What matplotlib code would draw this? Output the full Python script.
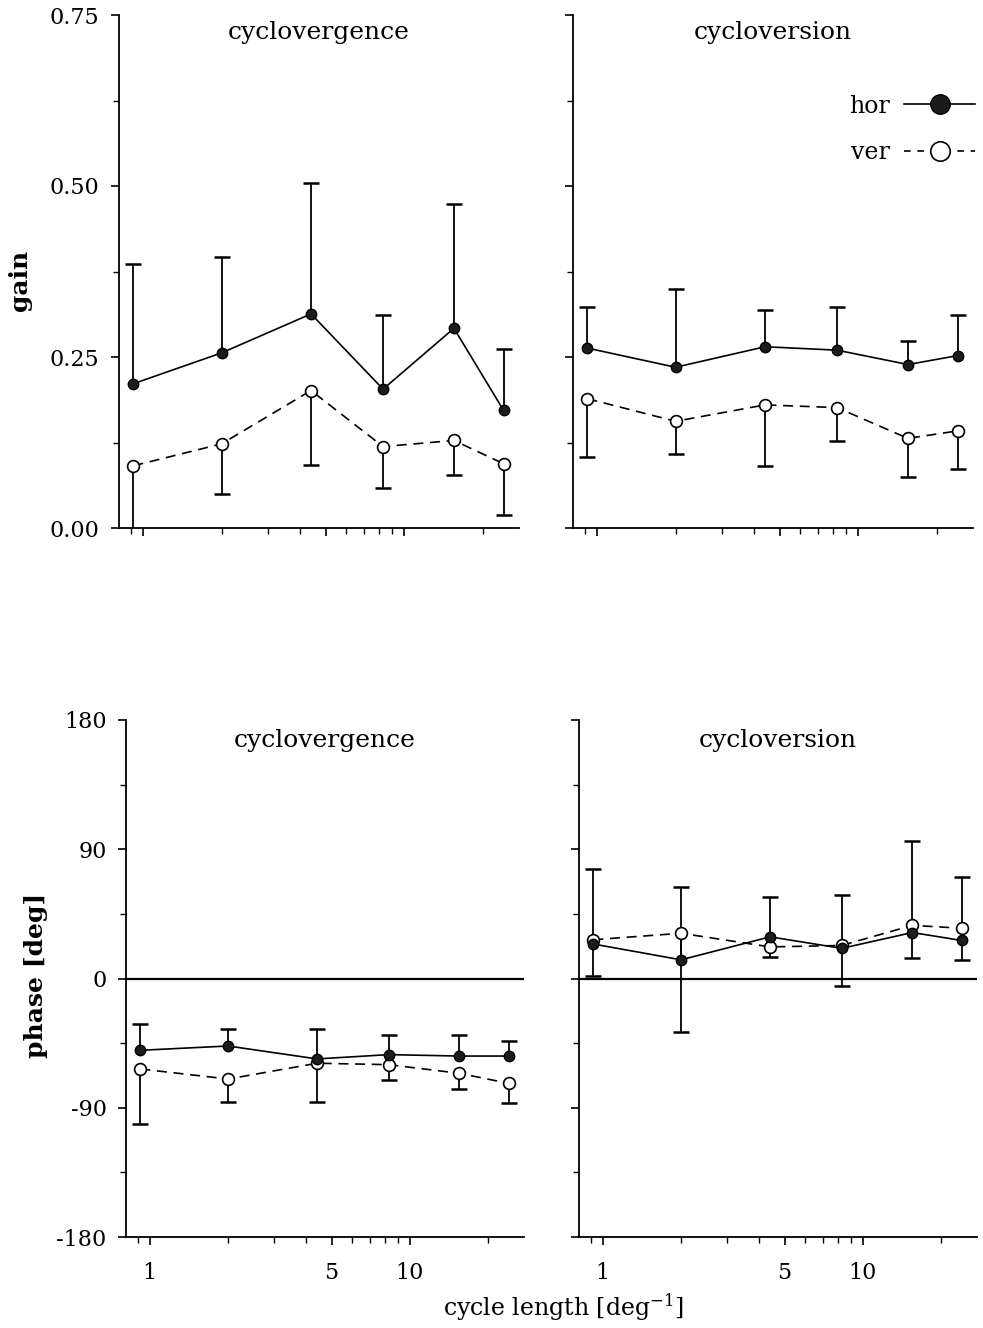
import matplotlib
matplotlib.use('Agg')
import matplotlib.pyplot as plt
from matplotlib.lines import Line2D
from matplotlib.ticker import FixedLocator, FixedFormatter, NullFormatter, LogLocator, MultipleLocator, FormatStrFormatter
import numpy as np

# ---------------- data ----------------
cycle_length = [0.92, 2.0, 4.4, 8.3, 15.5, 24.0]

gain_verg_hor = [0.211, 0.256, 0.313, 0.203, 0.292, 0.172]
gain_verg_hor_sd = [0.175, 0.140, 0.191, 0.109, 0.181, 0.089]
gain_verg_ver = [0.091, 0.123, 0.201, 0.119, 0.128, 0.094]
gain_verg_ver_sd = [0.100, 0.073, 0.109, 0.061, 0.050, 0.075]

gain_vers_hor = [0.263, 0.235, 0.265, 0.260, 0.239, 0.252]
gain_vers_hor_sd = [0.060, 0.114, 0.054, 0.063, 0.034, 0.059]
gain_vers_ver = [0.189, 0.156, 0.180, 0.176, 0.131, 0.142]
gain_vers_ver_sd = [0.085, 0.048, 0.089, 0.049, 0.057, 0.056]

phase_verg_hor = [-50, -47, -56, -53, -54, -54]
phase_verg_hor_sd = [18, 12, 21, 14, 15, 10.5]
phase_verg_ver = [-63, -70, -59, -60, -66, -73]
phase_verg_ver_sd = [38, 16, 27, 11, 11, 13.5]

phase_vers_hor = [24, 13, 29, 21, 32, 26.5]
phase_vers_hor_sd = [52, 51, 28, 37, 64, 44.5]
phase_vers_ver = [27, 31.5, 22, 23, 37, 35]
phase_vers_ver_sd = [25.6, 69, 6.7, 28, 22.5, 22]

x_tick_values = [1, 5, 10]
x_tick_labels = ['1', '5', '10']

# ---------------- style ----------------
plt.rcParams['font.family'] = ['DejaVu Serif']
plt.rcParams['mathtext.fontset'] = 'dejavuserif'
plt.rcParams['axes.unicode_minus'] = False

W, H = 983, 1328
fig = plt.figure(figsize=(W / 100, H / 100), dpi=100)


def axes_px(x0, x1, y0, y1):
    return fig.add_axes([x0 / W, 1 - y1 / H, (x1 - x0) / W, (y1 - y0) / H])


ax_gl = axes_px(119, 519, 15, 528)
ax_gr = axes_px(573, 973, 15, 528)
ax_pl = axes_px(126, 524, 720, 1237)
ax_pr = axes_px(579, 977, 720, 1237)

HOR_FILL = '#1c1c1c'


def draw(ax, hor, hor_sd, ver, ver_sd):
    x = np.array(cycle_length)
    hor = np.array(hor, float)
    hor_sd = np.array(hor_sd, float)
    ver = np.array(ver, float)
    ver_sd = np.array(ver_sd, float)
    # error bars: hor upward, ver downward
    ax.vlines(x, hor, hor + hor_sd, color='k', lw=1.3, zorder=2)
    ax.plot(x, hor + hor_sd, ls='none', marker='_', ms=12, mew=1.8, color='k', zorder=2)
    ax.vlines(x, ver - ver_sd, ver, color='k', lw=1.3, zorder=2)
    ax.plot(x, ver - ver_sd, ls='none', marker='_', ms=12, mew=1.8, color='k', zorder=2)
    ax.plot(x, hor, '-', color='k', lw=1.2, marker='o', ms=7.5,
            mfc=HOR_FILL, mec='k', zorder=4)
    ax.plot(x, ver, color='k', lw=1.2, ls=(0, (6, 4)), marker='o', ms=8.5,
            mfc='white', mec='k', mew=1.2, zorder=3)


def setup(ax, kind, xlabels, ylabels):
    ax.set_xscale('log')
    ax.set_xlim(0.81, 27.5)
    for s in ('top', 'right'):
        ax.spines[s].set_visible(False)
    for s in ('left', 'bottom'):
        ax.spines[s].set_linewidth(1.3)
    ax.xaxis.set_major_locator(FixedLocator(x_tick_values))
    ax.xaxis.set_minor_locator(LogLocator(base=10, subs=np.arange(2, 10)))
    ax.xaxis.set_minor_formatter(NullFormatter())
    if xlabels:
        ax.xaxis.set_major_formatter(FixedFormatter(x_tick_labels))
    else:
        ax.xaxis.set_major_formatter(NullFormatter())
    if kind == 'gain':
        ax.set_ylim(0, 0.75)
        ax.yaxis.set_major_locator(MultipleLocator(0.25))
        ax.yaxis.set_minor_locator(MultipleLocator(0.125))
        ax.yaxis.set_major_formatter(FormatStrFormatter('%.2f'))
    else:
        ax.set_ylim(-180, 180)
        ax.yaxis.set_major_locator(MultipleLocator(90))
        ax.yaxis.set_minor_locator(MultipleLocator(45))
        ax.axhline(0, color='k', lw=1.6, zorder=1)
    if not ylabels:
        ax.yaxis.set_major_formatter(NullFormatter())
    ax.tick_params(which='major', direction='out', length=6, width=1.2,
                   labelsize=16, color='k')
    ax.tick_params(which='minor', direction='out', length=4, width=1.0)
    ax.tick_params(axis='y', pad=8)
    ax.tick_params(axis='x', pad=12)


draw(ax_gl, gain_verg_hor, gain_verg_hor_sd, gain_verg_ver, gain_verg_ver_sd)
draw(ax_gr, gain_vers_hor, gain_vers_hor_sd, gain_vers_ver, gain_vers_ver_sd)
draw(ax_pl, phase_verg_hor, phase_verg_hor_sd, phase_verg_ver, phase_verg_ver_sd)
draw(ax_pr, phase_vers_hor, phase_vers_hor_sd, phase_vers_ver, phase_vers_ver_sd)

setup(ax_gl, 'gain', False, True)
setup(ax_gr, 'gain', False, False)
setup(ax_pl, 'phase', True, True)
setup(ax_pr, 'phase', True, False)

for ax, title, yy in ((ax_gl, 'cyclovergence', 0.965), (ax_gr, 'cycloversion', 0.965),
                      (ax_pl, 'cyclovergence', 0.96), (ax_pr, 'cycloversion', 0.96)):
    ax.text(0.5, yy, title, transform=ax.transAxes, ha='center', va='center',
            fontsize=18)

handles = [
    Line2D([], [], color='k', lw=1.2, marker='o', ms=14, mfc=HOR_FILL, mec='k'),
    Line2D([], [], color='k', lw=1.2, ls=(0, (4, 4)), marker='o', ms=14,
           mfc='white', mec='k', mew=1.2),
]
ax_gr.legend(handles, ['hor', 'ver'], loc='upper right', bbox_to_anchor=(1.005, 0.845),
             frameon=False, markerfirst=False, handlelength=3.0, fontsize=17,
             labelspacing=1.0, handletextpad=0.6, borderaxespad=0, borderpad=0)

fig.text(20 / W, 1 - 280 / H, 'gain', rotation=90, ha='center', va='center',
         fontsize=18, fontweight='bold')
fig.text(36 / W, 1 - 975 / H, 'phase [deg]', rotation=90, ha='center', va='center',
         fontsize=18, fontweight='bold')
fig.text(563 / W, 1 - 1307 / H, 'cycle length [deg$^{-1}$]', ha='center', va='center',
         fontsize=17)

fig.savefig('out.png', dpi=100)
